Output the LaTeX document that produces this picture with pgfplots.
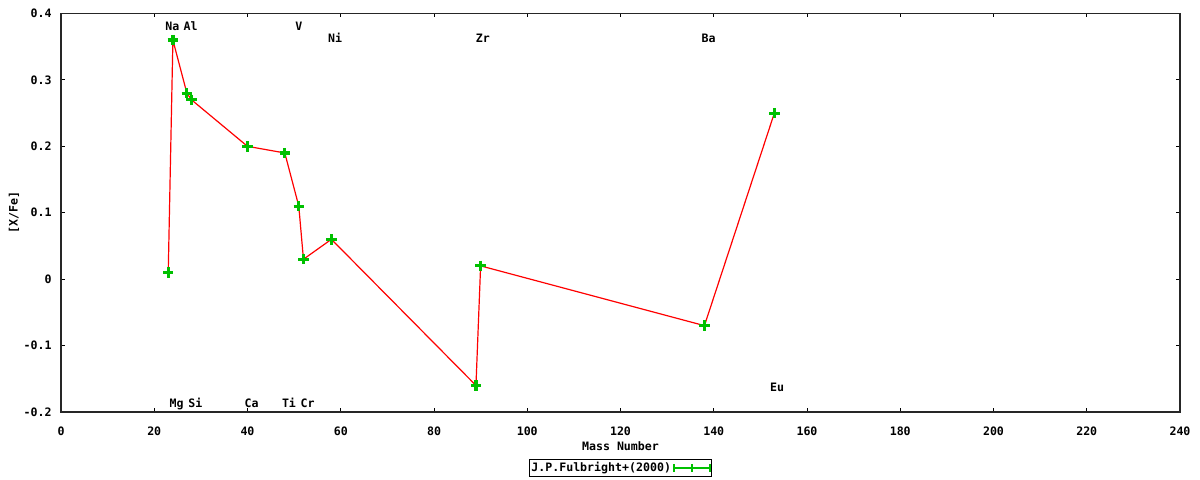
\documentclass[border=0pt]{standalone}
\usepackage{fontspec}
\setmainfont{DejaVu Sans Mono}
\usepackage{pgfplots}
\pgfplotsset{compat=1.18}
\definecolor{gpred}{RGB}{255,0,0}
\definecolor{gpgreen}{RGB}{0,192,0}
\pgfplotstableread{
x y
23 0.01
24 0.36
27 0.28
28 0.27
40 0.20
48 0.19
51 0.11
52 0.03
58 0.06
89 -0.16
90 0.02
138 -0.07
153 0.25
}\fulbright
\begin{document}
\begin{tikzpicture}[font=\fontsize{5.8}{7}\selectfont\bfseries]
\begin{axis}[
  scale only axis, width=559.5pt, height=199.25pt,
  xmin=0, xmax=240, ymin=-0.2, ymax=0.4,
  xtick={0,20,...,240},
  ytick={-0.2,-0.1,0,0.1,0.2,0.3,0.4},
  yticklabels={-0.2,-0.1,0,0.1,0.2,0.3,0.4},
  tick align=inside, major tick length=2pt,
  axis line style={line width=0.6pt, black!85},
  tick style={black, line width=0.5pt},
  /pgf/number format/assume math mode=true,
  xticklabel style={anchor=north, inner sep=0pt, yshift=-7pt},
  yticklabel style={anchor=east, inner sep=0pt, xshift=-4.5pt},
  every axis x label/.style={at={(axis description cs:0.5,0)}, anchor=center, yshift=-17.3pt},
  every axis y label/.style={at={(axis description cs:0,0.5)}, rotate=90, anchor=center, yshift=23.5pt},
  xlabel={Mass Number}, ylabel={[X/Fe]},
  legend style={at={(0.5,-0.1405)}, anchor=center, draw=black, line width=0.5pt,
    inner sep=0pt, nodes={inner sep=1pt}, font=\fontsize{5.8}{7}\selectfont\bfseries,
    /tikz/every even column/.append style={column sep=2pt}},
  legend plot pos=right,
]
\addplot[gpred, line width=0.6pt, forget plot] table[x=x,y=y] {\fulbright};
\addplot[gpgreen, only marks, mark=+, mark size=2.6pt, mark options={line width=1.6pt},
  legend image code/.code={
    \draw[gpgreen, line width=1.3pt] (0pt,0pt) -- (18pt,0pt);
    \draw[gpgreen, line width=1.1pt] (0pt,-1.8pt) -- (0pt,1.8pt) (9pt,-1.8pt) -- (9pt,1.8pt) (18pt,-1.8pt) -- (18pt,1.8pt);
  }] table[x=x,y=y] {\fulbright};
\addlegendentry{J.P.Fulbright+(2000)}
\tikzset{lab/.style={anchor=base}}
\node[lab] at (axis cs:23.9,0.3742) {Na};
\node[lab] at (axis cs:27.8,0.3742) {Al};
\node[lab] at (axis cs:51.0,0.3742) {V};
\node[lab] at (axis cs:58.8,0.357) {Ni};
\node[lab] at (axis cs:90.5,0.357) {Zr};
\node[lab] at (axis cs:138.9,0.357) {Ba};
\node[lab] at (axis cs:24.8,-0.1935) {Mg};
\node[lab] at (axis cs:28.8,-0.1935) {Si};
\node[lab] at (axis cs:40.9,-0.1935) {Ca};
\node[lab] at (axis cs:48.9,-0.1935) {Ti};
\node[lab] at (axis cs:52.9,-0.1935) {Cr};
\node[lab] at (axis cs:153.6,-0.1694) {Eu};
\coordinate (sw) at (rel axis cs:0,0);
\end{axis}
\pgfresetboundingbox
\path (sw) ++(-30.5pt,-34pt) rectangle ++(600pt,240pt);
\end{tikzpicture}
\end{document}
